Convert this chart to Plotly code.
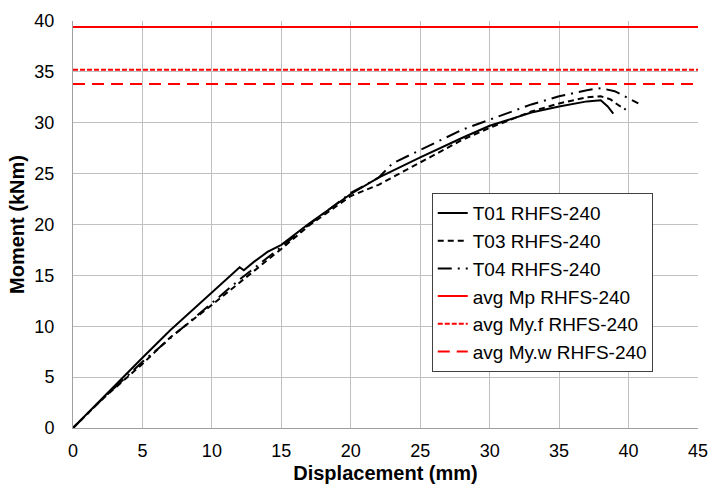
import plotly.graph_objects as go

# T01 RHFS-240 (solid)
t01_x = [0, 2, 5, 7, 10, 12, 12.3, 13, 14, 15, 17, 20, 22, 25, 28, 30, 33, 35, 37, 38, 38.5, 38.9]
t01_y = [0, 2.8, 6.9, 9.6, 13.3, 15.8, 15.5, 16.3, 17.3, 18.0, 20.1, 23.0, 24.6, 26.6, 28.5, 29.7, 31.0, 31.6, 32.1, 32.2, 31.6, 30.9]

# T03 RHFS-240 (dashed)
t03_x = [0, 2, 5, 7, 10, 12, 15, 17, 20, 22, 25, 28, 30, 33, 35, 37, 38, 38.7, 39.3, 39.8]
t03_y = [0, 2.7, 6.3, 8.9, 12.1, 14.3, 17.6, 19.9, 22.8, 23.9, 26.1, 28.3, 29.5, 31.1, 31.9, 32.5, 32.6, 32.3, 31.7, 31.3]

# T04 RHFS-240 (dash-dot)
t04_x = [0, 2, 5, 7, 10, 12, 15, 17, 20, 22, 23, 25, 28, 30, 33, 35, 37, 38, 39, 40, 40.7]
t04_y = [0, 2.7, 6.5, 8.8, 12.3, 14.6, 17.8, 20.0, 23.1, 24.6, 26.0, 27.3, 29.3, 30.3, 31.8, 32.6, 33.2, 33.4, 33.1, 32.4, 31.9]

# Average reference moments
x_span = [0, 45]
avg_mp = 39.4
avg_my_f = 35.2
avg_my_w = 33.8

x_ticks = [0, 5, 10, 15, 20, 25, 30, 35, 40, 45]
y_ticks = [0, 5, 10, 15, 20, 25, 30, 35, 40]

fig = go.Figure()
fig.add_trace(go.Scatter(x=t01_x, y=t01_y, mode="lines", name="T01 RHFS-240",
                         line=dict(color="black", width=2, dash="solid")))
fig.add_trace(go.Scatter(x=t03_x, y=t03_y, mode="lines", name="T03 RHFS-240",
                         line=dict(color="black", width=2, dash="6px,4px")))
fig.add_trace(go.Scatter(x=t04_x, y=t04_y, mode="lines", name="T04 RHFS-240",
                         line=dict(color="black", width=2, dash="14px,6px,2px,6px")))
fig.add_trace(go.Scatter(x=x_span, y=[avg_mp, avg_mp], mode="lines", name="avg Mp RHFS-240",
                         line=dict(color="#ff0000", width=2, dash="solid")))
fig.add_trace(go.Scatter(x=x_span, y=[avg_my_f, avg_my_f], mode="lines", name="avg My.f RHFS-240",
                         line=dict(color="#ff0000", width=2, dash="5px,2px")))
fig.add_trace(go.Scatter(x=x_span, y=[avg_my_w, avg_my_w], mode="lines", name="avg My.w RHFS-240",
                         line=dict(color="#ff0000", width=2, dash="12px,7px")))

font_family = "Liberation Sans, Arial, sans-serif"
fig.update_layout(
    width=714, height=491,
    margin=dict(l=73, r=16, t=21, b=63),
    paper_bgcolor="white", plot_bgcolor="white",
    font=dict(family=font_family, size=18, color="black"),
    showlegend=True,
    legend=dict(x=0.574, y=0.577, xanchor="left", yanchor="top",
                bgcolor="white", bordercolor="#404040", borderwidth=1,
                font=dict(size=19, family=font_family, color="black"),
                itemwidth=30, tracegroupgap=0),
    xaxis=dict(range=[0, 45], tickvals=x_ticks, showgrid=True, gridcolor="#c0c0c0", gridwidth=1,
               zeroline=False, showline=True, linecolor="#a0a0a0", linewidth=1, mirror=False,
               ticks="outside", ticklen=6, tickcolor="rgba(0,0,0,0)", tickfont=dict(size=18),
               automargin=False,
               title=dict(text="<b>Displacement (mm)</b>", font=dict(size=20), standoff=6)),
    yaxis=dict(range=[0, 40], tickvals=y_ticks, showgrid=True, gridcolor="#c0c0c0", gridwidth=1,
               zeroline=False, showline=True, linecolor="#a0a0a0", linewidth=1,
               ticks="outside", ticklen=14, tickcolor="rgba(0,0,0,0)", tickfont=dict(size=18),
               automargin=False,
               title=dict(text="<b>Moment (kNm)</b>", font=dict(size=20), standoff=4)),
)

fig.write_html("out.html", config={"displayModeBar": False},
               post_script="document.body.style.margin='0';document.body.style.overflow='hidden';")
